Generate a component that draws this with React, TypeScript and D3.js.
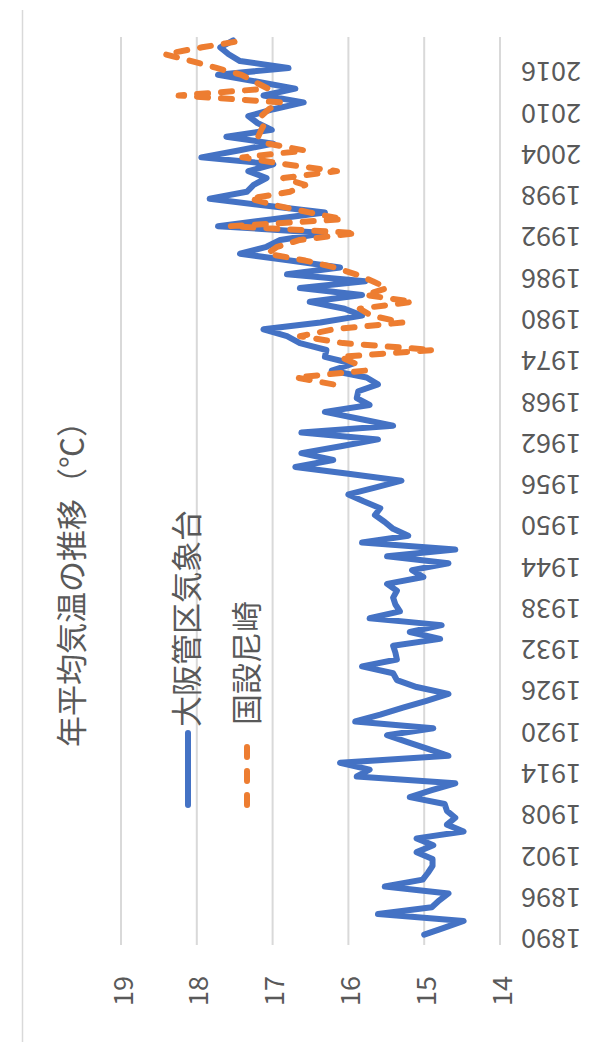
import * as d3 from "d3";

// 年平均気温の推移 — chart is shown turned 90° (years run bottom -> top)
const axisYears = [1890, 2021];
const osakaStart = 1891;
const osaka: number[] = [
  15.0, 14.74, 14.48, 15.61, 14.9, 14.8, 14.68, 15.52, 15.02, 14.95,
  14.89, 14.89, 15.1, 14.88, 15.1, 14.48, 14.7, 14.59, 14.7, 14.73,
  15.19, 14.9, 14.59, 15.89, 15.72, 16.11, 14.68, 14.95, 15.22, 15.49,
  14.88, 15.91, 15.58, 15.28, 14.97, 14.68, 15.1, 15.36, 15.41, 15.82,
  15.36, 15.38, 15.41, 14.79, 15.19, 14.77, 15.72, 15.32, 15.38, 15.41,
  15.36, 15.49, 15.01, 15.16, 14.68, 15.49, 14.59, 15.82, 15.21, 15.41,
  15.52, 15.65, 15.58, 15.8, 16.0, 15.65, 15.3, 16.0, 16.7, 16.2,
  16.62, 16.1, 15.61, 16.62, 15.41, 15.86, 16.31, 15.72, 15.89, 15.87,
  15.61, 15.76, 16.22, 15.94, 16.31, 16.29, 16.64, 16.81, 17.12, 16.37,
  15.82, 16.05, 16.51, 15.82, 16.64, 15.78, 16.81, 16.11, 16.77, 17.43,
  17.08, 16.9, 16.31, 17.72, 17.0, 16.31, 17.1, 17.83, 17.34, 17.25,
  17.08, 17.32, 16.99, 17.94, 17.45, 16.99, 17.61, 17.01, 17.2, 17.32,
  16.99, 16.59, 17.12, 16.7, 17.2, 17.72, 16.79, 17.43, 17.58, 17.69,
  17.52,
];
const amaStart = 1971;
const amagasaki: number[] = [
  16.2, 16.69, 15.78, 15.9, 16.11, 14.88, 16.07, 16.64, 16.2, 15.28,
  15.7, 15.85, 15.15, 15.78, 15.49, 15.68, 15.9, 16.18, 16.57, 17.07,
  16.94, 16.64, 15.89, 17.56, 16.07, 16.52, 16.95, 17.3, 16.77, 16.57,
  16.86, 16.15, 16.84, 17.4, 16.57, 17.06, 17.19, 17.15, 17.1, 17.15,
  17.05, 16.89, 18.24, 17.06, 17.24, 17.41, 17.74, 18.07, 18.42, 17.93,
  17.39,
];
const tempTicks = [14, 15, 16, 17, 18, 19];
const yearTicks = d3.range(1890, 2017, 6);
const seriesNames = ["大阪管区気象台", "国設尼崎"];
const title = "年平均気温の推移（℃）";

const blue = "#4472C4";
const orange = "#ED7D31";
const grid = "#D9D9D9";
const textCol = "#595959";
const font = "'Noto Sans CJK JP', 'Noto Sans', sans-serif";

type Pt = { year: number; value: number };

export default function App() {
  const W = 603, H = 1054;
  const plotTop = 37, plotBottom = 945;
  const t = d3.scaleLinear().domain([14, 19]).range([500, 121]);
  // category axis: one band per year, line points at band centres
  const band = (plotBottom - plotTop) / (axisYears[1] - axisYears[0] + 1);
  const yr = d3.scaleLinear().domain(axisYears).range([plotBottom - band / 2, plotTop + band / 2]);

  const osakaPts: Pt[] = osaka.map((v, i) => ({ year: osakaStart + i, value: v }));
  const amaPts: Pt[] = amagasaki.map((v, i) => ({ year: amaStart + i, value: v }));
  const line = d3.line<Pt>().x(d => t(d.value)).y(d => yr(d.year));

  return (
    <div style={{ position: "absolute", left: 0, top: 0 }}>
      <svg width={W} height={H} style={{ display: "block", fontFamily: font }}>
        <rect x={0} y={0} width={W} height={H} fill="#fff" />
        <line x1={22.5} x2={22.5} y1={10} y2={1042} stroke={grid} strokeWidth={1.5} />

        {tempTicks.map(v => (
          <line key={v} x1={t(v)} x2={t(v)} y1={plotTop} y2={plotBottom} stroke={grid} strokeWidth={2} />
        ))}

        {tempTicks.map(v => (
          <text key={"l" + v} transform={`translate(${t(v)},991) rotate(-90)`} textAnchor="middle"
            dominantBaseline="central" fontSize={27} fill={textCol}>{v}</text>
        ))}

        {yearTicks.map(y => (
          <text key={y} transform={`translate(551,${yr(y) - 1}) rotate(180)`} textAnchor="middle"
            dominantBaseline="central" fontSize={27} fill={textCol}>{y}</text>
        ))}

        <path d={line(osakaPts) ?? ""} fill="none" stroke={blue} strokeWidth={6}
          strokeLinejoin="round" strokeLinecap="round" />
        <path d={line(amaPts) ?? ""} fill="none" stroke={orange} strokeWidth={6}
          strokeLinejoin="round" strokeLinecap="round" strokeDasharray="11 13" />

        <text transform="translate(69,747) rotate(-90)" dominantBaseline="central" fontSize={31} fill={textCol}>{title}</text>

        <line x1={188} x2={188} y1={733} y2={805} stroke={blue} strokeWidth={6} strokeLinecap="round" />
        <text transform="translate(184,727) rotate(-90)" dominantBaseline="central" fontSize={31} fill={textCol}>{seriesNames[0]}</text>
        <line x1={247} x2={247} y1={805} y2={742} stroke={orange} strokeWidth={6} strokeLinecap="round" strokeDasharray="10 14" />
        <text transform="translate(244,725) rotate(-90)" dominantBaseline="central" fontSize={31} fill={textCol}>{seriesNames[1]}</text>
      </svg>
    </div>
  );
}
